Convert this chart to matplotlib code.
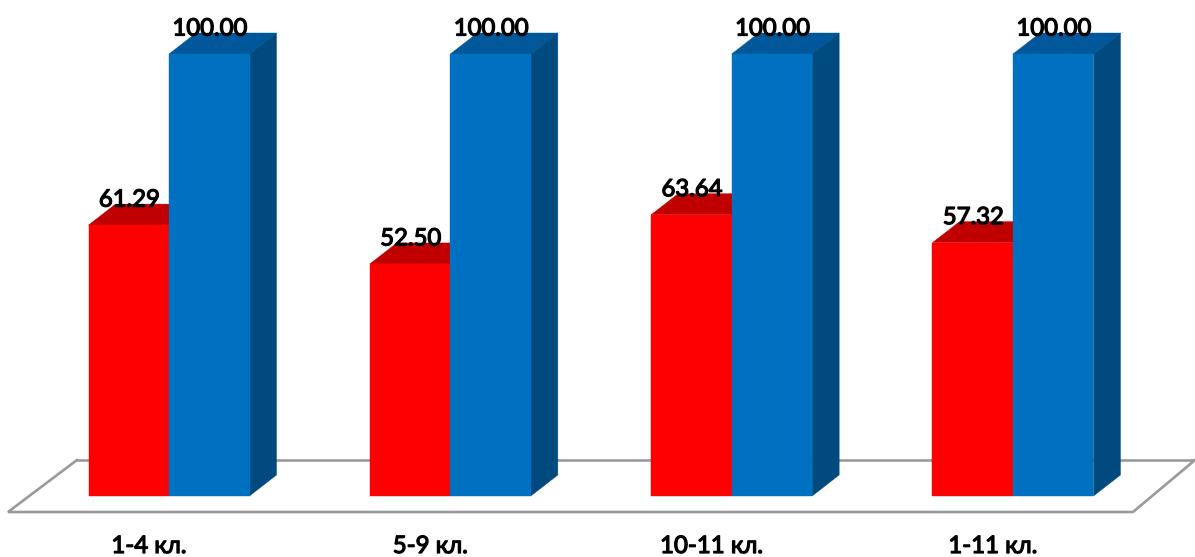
import matplotlib
matplotlib.use('Agg')
import matplotlib.pyplot as plt
import matplotlib.patheffects as pe
from matplotlib.patches import Polygon

categories = ['1-4 кл.', '5-9 кл.', '10-11 кл.', '1-11 кл.']
red_values = [61.29, 52.50, 63.64, 57.32]
blue_values = [100.00, 100.00, 100.00, 100.00]

# one category = 281.33 px, one value unit = 4.42 px
bar_w = 80.5 / 281.33
dx = 27 / 281.33
dy = 21 / 4.42


def bar3d(ax, x, value, front, top, side, zorder):
    # top and side first so the front face sits over their edges
    ax.add_patch(Polygon([(x, value), (x + bar_w, value), (x + bar_w + dx, value + dy), (x + dx, value + dy)],
                         fc=top, ec=top, lw=0.3, zorder=zorder))
    ax.add_patch(Polygon([(x + bar_w, 0), (x + bar_w + dx, dy), (x + bar_w + dx, value + dy), (x + bar_w, value)],
                         fc=side, ec=side, lw=0.3, zorder=zorder))
    ax.add_patch(Polygon([(x, 0), (x + bar_w, 0), (x + bar_w, value), (x, value)],
                         fc=front, ec=front, lw=0.3, zorder=zorder))


def bold_text(ax, x, y, s, size):
    # Lato bold is not picked up here, so thicken the strokes
    t = ax.text(x, y, s, ha='center', va='center', family='Lato', fontsize=size, color='black', zorder=5)
    t.set_path_effects([pe.withStroke(linewidth=0.9, foreground='black')])


fig = plt.figure(figsize=(11.95, 5.57), dpi=100)
ax = fig.add_axes([0, 0, 1, 1])
ax.set_xlim(-169 / 281.33, (1195 - 169) / 281.33)
ax.set_ylim(-61 / 4.42, 496 / 4.42)
ax.axis('off')

# floor
floor_front = -16 / 4.42
floor_back = 36 / 4.42
floor_l = (8 - 169) / 281.33
floor_r = (1133 - 169) / 281.33
floor_dx = 69 / 281.33
ax.plot([floor_l + floor_dx, floor_l, floor_r, floor_r + 62 / 281.33], [floor_back, floor_front, floor_front, floor_back],
        color='#9a9a9a', lw=1.9, zorder=1, solid_joinstyle='miter')
ax.plot([floor_l + floor_dx, floor_r + 62 / 281.33], [floor_back, floor_back], color='#9a9a9a', lw=1.9, zorder=1)

for i, cat in enumerate(categories):
    bar3d(ax, i - bar_w, red_values[i], '#ff0000', '#c00000', '#a80000', 2)
    bar3d(ax, i, blue_values[i], '#0070c0', '#00579a', '#004a80', 3)
    bold_text(ax, i - bar_w + 41 / 281.33, red_values[i] + 25 / 4.42, f'{red_values[i]:.2f}', 17.2)
    bold_text(ax, i + 41 / 281.33, blue_values[i] + 25 / 4.42, f'{blue_values[i]:.2f}', 17.2)
    bold_text(ax, i - 20 / 281.33, -50.5 / 4.42, cat, 17.3)

fig.savefig('out.png', dpi=100)
